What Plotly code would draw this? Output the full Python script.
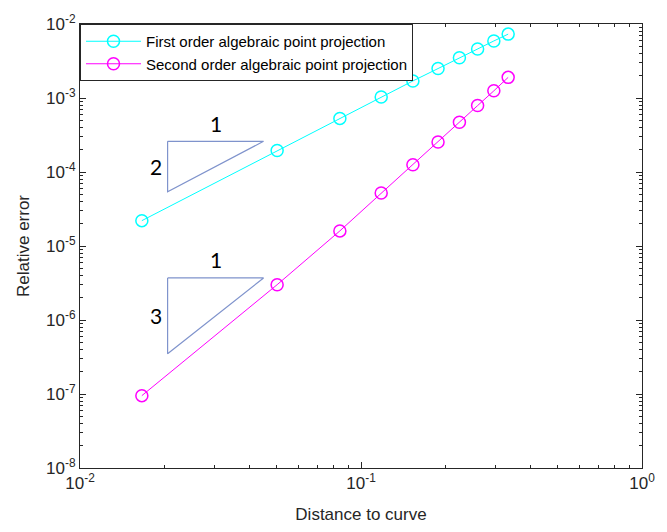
import math
import plotly.graph_objects as go

# Distance to curve (x) and relative error (y) for both projection schemes
distance = [0.0166, 0.0503, 0.0841, 0.118, 0.153, 0.188, 0.224, 0.260, 0.297, 0.334]
err_first = [2.2e-5, 1.95e-4, 5.3e-4, 1.03e-3, 1.7e-3, 2.5e-3, 3.5e-3, 4.6e-3, 5.9e-3, 7.3e-3]
err_second = [9.5e-8, 3.0e-6, 1.6e-5, 5.2e-5, 1.25e-4, 2.55e-4, 4.7e-4, 7.9e-4, 1.25e-3, 1.9e-3]

series_names = ["First order algebraic point projection",
                "Second order algebraic point projection"]

# Slope reference triangles: (x_left, x_right, y_top, slope)
tri_first = (0.0205, 0.045, 2.6e-4, 2)
tri_second = (0.0205, 0.045, 3.7e-6, 3)

x_major = [1e-2, 1e-1, 1e0]
x_major_text = ["10<sup>-2</sup>", "10<sup>-1</sup>", "10<sup>0</sup>"]
y_major = [1e-8, 1e-7, 1e-6, 1e-5, 1e-4, 1e-3, 1e-2]
y_major_text = ["10<sup>%d</sup>" % e for e in range(-8, -1)]

x_minor = [m * 10.0 ** e for e in (-2, -1) for m in range(2, 10)]
y_minor = [m * 10.0 ** e for e in range(-8, -2) for m in range(2, 10)]

font_main = "Liberation Sans, Arial, sans-serif"
tri_color = "#7f93cc"
axis_color = "#262626"

fig = go.Figure()
fig.add_trace(go.Scatter(
    x=distance, y=err_first, name=series_names[0], mode="lines+markers",
    line=dict(color="#00ffff", width=1),
    marker=dict(symbol="circle-open", size=12, color="#00ffff", line=dict(width=1.5)),
))
fig.add_trace(go.Scatter(
    x=distance, y=err_second, name=series_names[1], mode="lines+markers",
    line=dict(color="#ff00ff", width=1),
    marker=dict(symbol="circle-open", size=12, color="#ff00ff", line=dict(width=1.5)),
))


def add_triangle(tri):
    x0, x1, ytop, slope = tri
    ybot = ytop * (x0 / x1) ** slope
    fig.add_trace(go.Scatter(
        x=[x0, x1, x0, x0], y=[ytop, ytop, ybot, ytop], mode="lines",
        line=dict(color=tri_color, width=1.2), showlegend=False, hoverinfo="skip",
    ))
    xm = (math.log10(x0) + math.log10(x1)) / 2
    fig.add_annotation(x=xm, y=math.log10(ytop), text="1", showarrow=False,
                       yshift=18, font=dict(family="Lato, sans-serif", size=21, color="black"))
    ym = (math.log10(ytop) + math.log10(ybot)) / 2
    fig.add_annotation(x=math.log10(x0), y=ym, text=str(slope), showarrow=False,
                       xshift=-12, font=dict(family="Lato, sans-serif", size=21, color="black"))


add_triangle(tri_first)
add_triangle(tri_second)

axis_common = dict(
    type="log", showgrid=False, zeroline=False,
    showline=True, linecolor=axis_color, linewidth=1, mirror="allticks",
    ticks="inside", ticklen=6, tickcolor=axis_color, tickwidth=1,
    tickfont=dict(family=font_main, size=17, color=axis_color),
    ticklabeloverflow="allow",
)

fig.update_xaxes(
    **axis_common, range=[-2, 0], tickmode="array",
    tickvals=x_major, ticktext=x_major_text,
    minor=dict(tickmode="array", tickvals=x_minor, ticks="inside", ticklen=3,
               tickcolor=axis_color),
    title=dict(text="Distance to curve", standoff=15,
               font=dict(family=font_main, size=17, color=axis_color)),
)
fig.update_yaxes(
    **axis_common, range=[-8, -2], tickmode="array",
    tickvals=y_major, ticktext=y_major_text,
    minor=dict(tickmode="array", tickvals=y_minor, ticks="inside", ticklen=3,
               tickcolor=axis_color),
    title=dict(text="Relative error", standoff=12,
               font=dict(family=font_main, size=17, color=axis_color)),
)

fig.update_layout(
    width=667, height=532,
    margin=dict(l=80, r=12, t=16, b=56),
    paper_bgcolor="white", plot_bgcolor="white",
    showlegend=True,
    legend=dict(x=0, y=1, xanchor="left", yanchor="top",
                bgcolor="white", bordercolor=axis_color, borderwidth=1,
                font=dict(family=font_main, size=15, color="black"),
                itemwidth=55, tracegroupgap=0),
)

fig.write_html("out.html")
